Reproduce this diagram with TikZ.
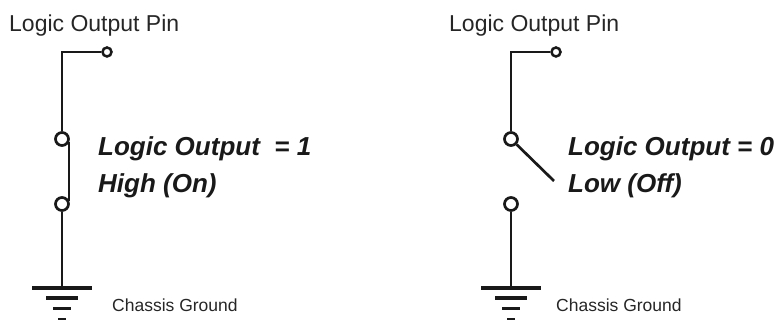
\documentclass[tikz,border=0pt]{standalone}
\usepackage{fontspec}
\setmainfont{Liberation Sans}
\usetikzlibrary{positioning}
\tikzset{
  wire/.style={line width=2.7pt, black!90},
  gndbar/.style={line width=3.6pt, black!90},
  contact/.style={circle, draw=black!90, line width=2.7pt, fill=white, inner sep=0pt, minimum size=13pt},
  pin/.style={circle, draw=black!90, line width=2.5pt, fill=white, inner sep=0pt, minimum size=9pt},
  pinlabel/.style={font=\fontsize{23}{26}\selectfont, text=black!85, anchor=base west, inner sep=0pt},
  statelabel/.style={font=\fontsize{26}{37.5}\selectfont\bfseries\itshape, text=black!90, anchor=west, inner sep=0pt, align=left},
  gndlabel/.style={font=\fontsize{17.5}{20}\selectfont, text=black!85, anchor=base west, inner sep=0pt},
}
\begin{document}
\begin{tikzpicture}[x=1pt, y=1pt]
\useasboundingbox (0,0) rectangle (777,320);

% Left switch (closed)
\node[pinlabel] (lpinlabel) at (9,288) {Logic Output Pin};
\node[pin] (lpin) at (107,268) {};
\node[contact] (ltop) at (62,181) {};
\node[contact] (lbot) at (62,116) {};
\coordinate (lcorner) at (62,268);
\coordinate (lgnd) at (62,32);
\draw[wire] (lpin) -- (lcorner) -- (ltop);
\draw[wire] (ltop.-25) -- (lbot.25);
\draw[wire] (lbot) -- (lgnd);
\node[statelabel] (lstate) at (98,152.5) {Logic Output\ \ = 1\\High (On)};
\node[gndlabel] (lgndlabel) at (112,8) {Chassis Ground};

% Left ground
\coordinate (la1) at (32,32);
\coordinate (la2) at (92,32);
\coordinate (lb1) at (46,22);
\coordinate (lb2) at (78,22);
\coordinate (lc1) at (53,11.5);
\coordinate (lc2) at (71,11.5);
\coordinate (ld1) at (58,0.5);
\coordinate (ld2) at (66,0.5);
\draw[gndbar] (la1) -- (la2);
\draw[gndbar] (lb1) -- (lb2);
\draw[gndbar] (lc1) -- (lc2);
\draw[gndbar] (ld1) -- (ld2);

% Right switch (open)
\node[pinlabel] (rpinlabel) at (449,288) {Logic Output Pin};
\node[pin] (rpin) at (556,268) {};
\node[contact] (rtop) at (511,181) {};
\node[contact] (rbot) at (511,116) {};
\coordinate (rcorner) at (511,268);
\coordinate (rgnd) at (511,32);
\coordinate (rarm) at (554,139);
\draw[wire] (rpin) -- (rcorner) -- (rtop);
\draw[wire] (rtop) -- (rarm);
\draw[wire] (rbot) -- (rgnd);
\node[statelabel] (rstate) at (568,152.5) {Logic Output = 0\\Low (Off)};
\node[gndlabel] (rgndlabel) at (556,8) {Chassis Ground};

% Right ground
\coordinate (ra1) at (481,32);
\coordinate (ra2) at (541,32);
\coordinate (rb1) at (495,22);
\coordinate (rb2) at (527,22);
\coordinate (rc1) at (502,11.5);
\coordinate (rc2) at (520,11.5);
\coordinate (rd1) at (507,0.5);
\coordinate (rd2) at (515,0.5);
\draw[gndbar] (ra1) -- (ra2);
\draw[gndbar] (rb1) -- (rb2);
\draw[gndbar] (rc1) -- (rc2);
\draw[gndbar] (rd1) -- (rd2);

\end{tikzpicture}
\end{document}
